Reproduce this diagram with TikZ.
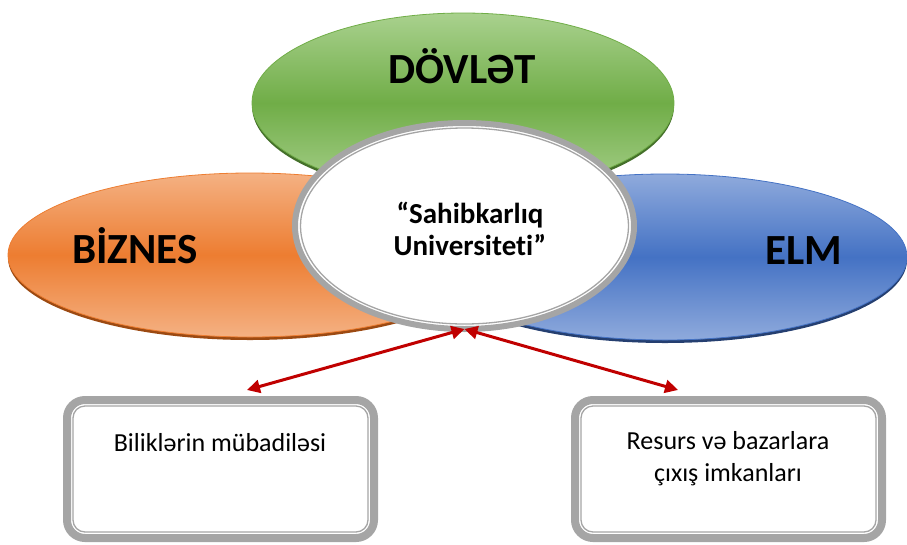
\documentclass[tikz,border=0pt]{standalone}
\usepackage{fontspec}
\setmainfont[Ligatures=NoCommon]{Carlito}
\usetikzlibrary{arrows.meta,shapes.geometric}
\definecolor{orM}{HTML}{ED7D31}\definecolor{orL}{HTML}{F4B183}\definecolor{orD}{HTML}{9C4A12}
\definecolor{grM}{HTML}{70AD47}\definecolor{grL}{HTML}{A9D18E}\definecolor{grD}{HTML}{44702A}
\definecolor{blM}{HTML}{4472C4}\definecolor{blL}{HTML}{8FAADC}\definecolor{blD}{HTML}{253F70}
\definecolor{frame}{HTML}{A5A5A5}
\definecolor{arr}{HTML}{C00000}
\begin{document}
\begin{tikzpicture}[x=1pt,y=-1pt,
  blob/.style={ellipse, inner sep=0pt, outer sep=0pt},
  bigtxt/.style={font=\bfseries\fontsize{43}{48}\selectfont},
  boxtxt/.style={font=\fontsize{26}{32}\selectfont, align=center},
  framebox/.style={rectangle, rounded corners=18pt, draw=frame, line width=8pt, fill=white,
     minimum width=307pt, minimum height=138pt, inner sep=0pt, outer sep=0pt},
  link/.style={draw=arr, line width=3pt, {Triangle[length=13pt,width=13pt]}-{Triangle[length=13pt,width=13pt]}}
]
\useasboundingbox (0,0) rectangle (907,544);
% green
\fill[grD] (463,106) ellipse [x radius=211, y radius=90];
\node[blob, minimum width=422pt, minimum height=180pt, top color=grL, bottom color=grL, middle color=grM, draw=grM, line width=0.8pt] (gov) at (463,103) {};
% orange
\fill[orD] (250,258) ellipse [x radius=242, y radius=82];
\node[blob, minimum width=484pt, minimum height=164pt, top color=orL, bottom color=orL, middle color=orM, draw=orM, line width=0.8pt] (biz) at (250,255) {};
% blue
\fill[blD] (665,260) ellipse [x radius=242, y radius=83];
\node[blob, minimum width=484pt, minimum height=166pt, top color=blL, bottom color=blL, middle color=blM, draw=blM, line width=0.8pt] (sci) at (665,257) {};
% labels
\node[bigtxt, anchor=base] (govt) at (462,83) {DÖVLƏT};
\node[bigtxt, anchor=base] (bizt) at (135,263) {BİZNES};
\node[bigtxt, anchor=base] (scit) at (804,264) {ELM};
% center
\node[blob, minimum width=339pt, minimum height=206pt, draw=frame, line width=6pt, fill=white] (uni) at (464.5,226) {};
\draw[frame, line width=1.3pt] (uni.center) ellipse [x radius=164, y radius=98];
\node[font=\bfseries\fontsize{29}{32}\selectfont, align=center] (unit) at (470,229) {“Sahibkarlıq\\Universiteti”};
% boxes
\node[framebox] (b1) at (220.5,469) {};
\draw[frame, line width=1.3pt, rounded corners=12pt] ([shift={(6,6)}]b1.north west) rectangle ([shift={(-6,-6)}]b1.south east);
\node[boxtxt] (b1t) at (220,443) {Biliklərin mübadiləsi};
\node[framebox] (b2) at (728.5,469) {};
\draw[frame, line width=1.3pt, rounded corners=12pt] ([shift={(6,6)}]b2.north west) rectangle ([shift={(-6,-6)}]b2.south east);
\node[boxtxt] (b2t) at (728,459) {Resurs və bazarlara\\çıxış imkanları};
% arrows
\coordinate (lt) at (247,390);
\coordinate (rt) at (678,390);
\draw[link] (uni.south) -- (lt);
\draw[link] (uni.south) -- (rt);
\end{tikzpicture}
\end{document}
